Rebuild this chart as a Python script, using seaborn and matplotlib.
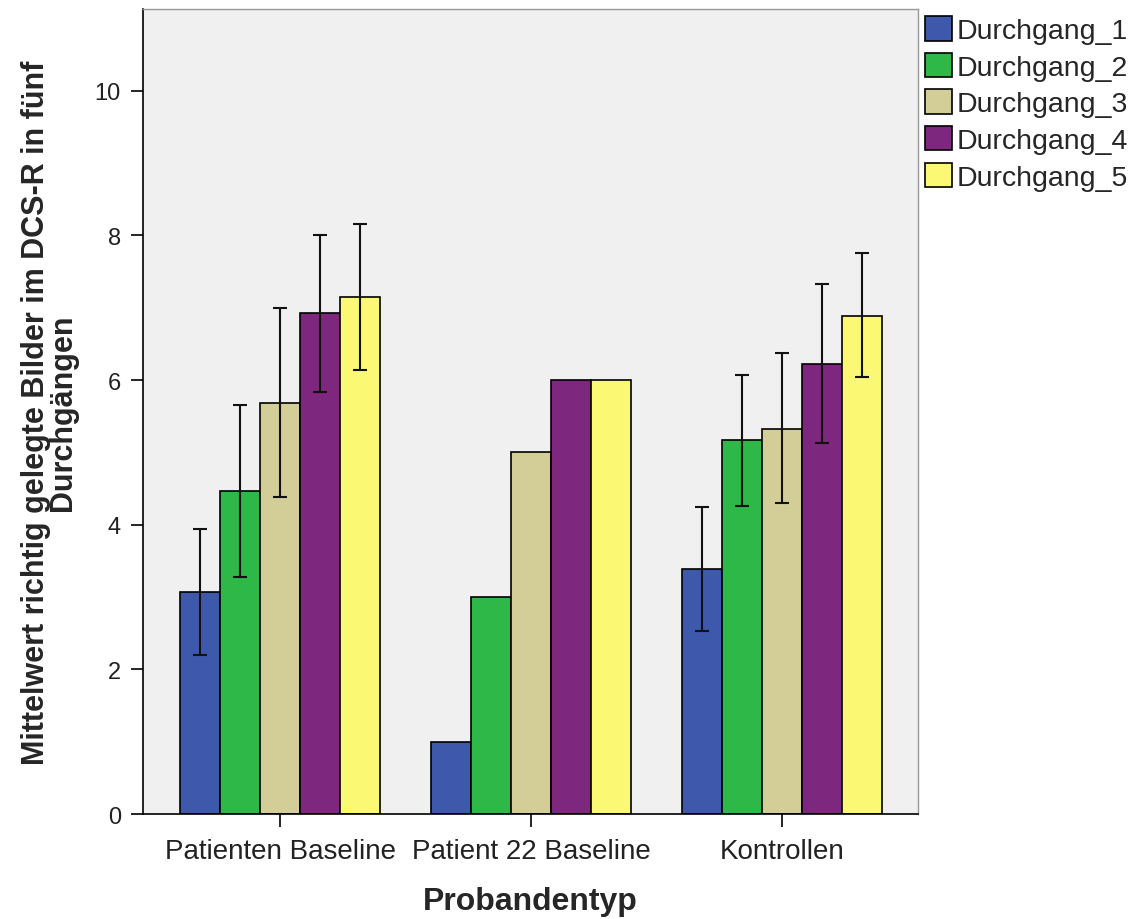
import matplotlib
matplotlib.use("Agg")
import matplotlib.pyplot as plt
import seaborn as sns
import pandas as pd
import numpy as np

groups = ["Patienten Baseline", "Patient 22 Baseline", "Kontrollen"]
series = ["Durchgang_1", "Durchgang_2", "Durchgang_3", "Durchgang_4", "Durchgang_5"]
colors = ["#3E58AC", "#2EB848", "#D3CE97", "#7E277E", "#FBF873"]

means_patienten = [3.07, 4.47, 5.68, 6.93, 7.15]
means_patient22 = [1.0, 3.0, 5.0, 6.0, 6.0]
means_kontrollen = [3.39, 5.17, 5.32, 6.22, 6.89]

err_low_patienten = [2.20, 3.28, 4.38, 5.84, 6.14]
err_high_patienten = [3.94, 5.66, 7.00, 8.01, 8.16]
err_low_kontrollen = [2.53, 4.26, 4.30, 5.13, 6.04]
err_high_kontrollen = [4.25, 6.07, 6.38, 7.33, 7.75]

sns.set_theme(style="white")
plt.rcParams["font.family"] = ["Liberation Sans", "DejaVu Sans"]

rows = []
for g, m in zip(groups, [means_patienten, means_patient22, means_kontrollen]):
    for s, v in zip(series, m):
        rows.append({"Probandentyp": g, "Durchgang": s, "Wert": v})
df = pd.DataFrame(rows)

fig = plt.figure(figsize=(11.4, 9.2), dpi=100)
ax = fig.add_axes([143/1140, 1 - 815/920, (918-143)/1140, (815-10)/920])
ax.set_facecolor("#F0F0F0")

sns.barplot(data=df, x="Probandentyp", y="Wert", hue="Durchgang",
            order=groups, hue_order=series, palette=colors,
            edgecolor="black", linewidth=1.2, width=0.8, errorbar=None,
            saturation=1, ax=ax)

lows = {0: err_low_patienten, 2: err_low_kontrollen}
highs = {0: err_high_patienten, 2: err_high_kontrollen}
bar_conts = list(ax.containers)
for si, cont in enumerate(bar_conts):
    for gi, bar in enumerate(cont.patches):
        if gi in lows:
            xc = bar.get_x() + bar.get_width() / 2
            ax.errorbar([xc], [(lows[gi][si] + highs[gi][si]) / 2],
                        yerr=[[(highs[gi][si] - lows[gi][si]) / 2]],
                        fmt="none", ecolor="#111111", elinewidth=1.5,
                        capsize=5, capthick=1.5, zorder=5)

ax.set_xlim(-0.546, 2.542)
ax.set_ylim(0, 11.13)
ax.set_yticks([0, 2, 4, 6, 8, 10])
ax.tick_params(axis="both", which="both", direction="out", length=9,
               width=1.2, color="black", labelcolor="#222222",
               bottom=True, left=True)
ax.tick_params(axis="x", labelsize=20, pad=8)
ax.tick_params(axis="y", labelsize=17, pad=7)
for side in ["left", "bottom"]:
    ax.spines[side].set_color("black")
    ax.spines[side].set_linewidth(1.2)
for side in ["top", "right"]:
    ax.spines[side].set_color("#999999")
    ax.spines[side].set_linewidth(1.0)

ax.set_xlabel("Probandentyp", fontsize=23, fontweight="bold", labelpad=16)
ax.set_ylabel("Mittelwert richtig gelegte Bilder im DCS-R in fünf\nDurchgängen",
              fontsize=22, fontweight="bold", labelpad=12, linespacing=0.85)

leg = ax.legend(loc="upper left", bbox_to_anchor=(1.0, 1.0), frameon=False,
                fontsize=20.5, handlelength=0.95, handleheight=0.95,
                handletextpad=0.15, labelspacing=0.3, borderaxespad=0.25,
                borderpad=0.0)

fig.savefig("out.png", dpi=100)
